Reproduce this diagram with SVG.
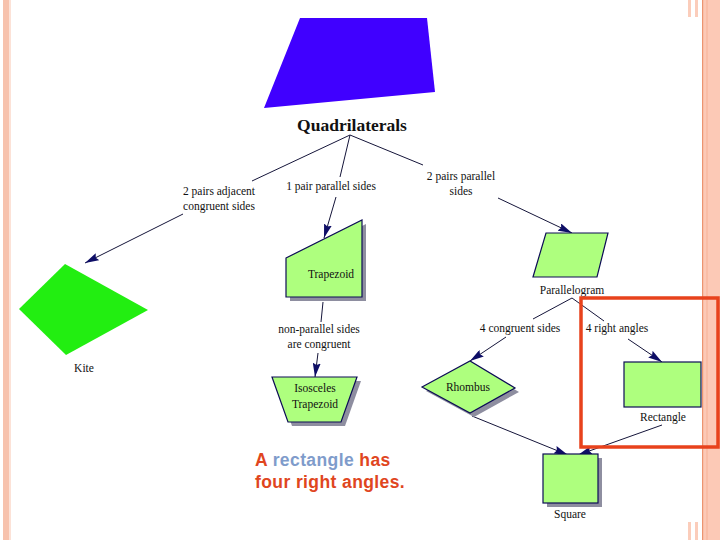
<svg xmlns="http://www.w3.org/2000/svg" width="720" height="540" viewBox="0 0 720 540">
<defs>
<style>
.lbl{font-family:"Liberation Serif","Times New Roman",serif;font-size:11.5px;fill:#111;text-anchor:middle}
.ttl{font-family:"Liberation Serif","Times New Roman",serif;font-size:17.5px;font-weight:bold;fill:#111;text-anchor:middle}
.node{fill:#AEFF7E;stroke:#0C0C55;stroke-width:1.2}
.shadow{fill:#8E8EA0}
.edge{fill:none;stroke:#15153A;stroke-width:1}
.arr{marker-end:url(#ah)}
.cap{font-family:"Liberation Sans",Arial,sans-serif;font-size:17.5px;font-weight:bold;letter-spacing:0.4px}
</style>
<marker id="ah" viewBox="0 0 14 8" refX="14" refY="4" markerWidth="14" markerHeight="8" orient="auto" markerUnits="userSpaceOnUse">
<path d="M0,0 L14,4 L0,8 L2,4 z" fill="#0E0E66"/>
</marker>
</defs>
<rect width="720" height="540" fill="#fff"/>
<g id="borders">
<rect x="3" y="0" width="6" height="540" fill="#F7C2AD"/>
<rect x="9" y="0" width="2" height="540" fill="#FCE2D7"/>
<rect x="702" y="0" width="18" height="540" fill="#FCC9B6"/>
<rect x="702" y="0" width="1.2" height="540" fill="#EC9470"/>
<rect x="706" y="0" width="2" height="540" fill="#F9BDA6"/>
<rect x="688" y="0" width="3" height="17" fill="#FBCDBB"/>
<rect x="695" y="0" width="3" height="17" fill="#FBCDBB"/>
<rect x="688" y="522" width="3" height="18" fill="#FBCDBB"/>
<rect x="695" y="522" width="3" height="18" fill="#FBCDBB"/>
</g>
<g id="blue-quad"><polygon points="300,18 427,18 435,92 264,108" fill="#4000FF"/></g>
<g id="connectors">
<line class="edge" x1="350" y1="135" x2="252" y2="181"/>
<line class="edge" x1="350" y1="135" x2="340" y2="177"/>
<line class="edge" x1="350" y1="135" x2="423" y2="165"/>
<line class="edge arr" x1="183" y1="214" x2="85" y2="263"/>
<line class="edge arr" x1="336" y1="197" x2="324" y2="238"/>
<line class="edge arr" x1="498" y1="198" x2="572" y2="233"/>
<line class="edge" x1="323" y1="302" x2="321" y2="322"/>
<line class="edge arr" x1="318" y1="353" x2="315" y2="377"/>
<line class="edge" x1="572" y1="298" x2="533" y2="319"/>
<line class="edge" x1="572" y1="298" x2="604" y2="321"/>
<line class="edge arr" x1="506" y1="337" x2="470" y2="361"/>
<line class="edge arr" x1="628" y1="339" x2="662" y2="362"/>
<line class="edge arr" x1="472" y1="416" x2="568" y2="455"/>
<line class="edge arr" x1="662" y1="425" x2="578" y2="455"/>
</g>
<g id="quadrilaterals"><text class="ttl" x="352" y="131">Quadrilaterals</text></g>
<g id="lbl-adjacent"><text class="lbl" x="219" y="195">2 pairs adjacent</text><text class="lbl" x="219" y="210">congruent sides</text></g>
<g id="lbl-1pair"><text class="lbl" x="331" y="190">1 pair parallel sides</text></g>
<g id="lbl-2pairs"><text class="lbl" x="461" y="180">2 pairs parallel</text><text class="lbl" x="461" y="195">sides</text></g>
<g id="kite">
<polygon points="65,264 148,310 66,355 19,309" fill="#22EE11"/>
<text class="lbl" x="84" y="372">Kite</text>
</g>
<g id="trapezoid">
<polygon class="shadow" points="290,262 366,224 366,301 290,301"/>
<polygon class="node" points="286,258 362,220 362,297 286,297"/>
<text class="lbl" x="331" y="278">Trapezoid</text>
</g>
<g id="lbl-nonparallel"><text class="lbl" x="319" y="333">non-parallel sides</text><text class="lbl" x="319" y="348">are congruent</text></g>
<g id="isosceles">
<polygon class="shadow" points="276,381 361,381 345,426 292,426"/>
<polygon class="node" points="272,377 357,377 341,422 288,422"/>
<text class="lbl" x="315" y="392">Isosceles</text>
<text class="lbl" x="315" y="408">Trapezoid</text>
</g>
<g id="parallelogram">
<polygon class="node" points="546,233 608,233 597,277 533,277"/>
<text class="lbl" x="572" y="294">Parallelogram</text>
</g>
<g id="lbl-4cong"><text class="lbl" x="520" y="332">4 congruent sides</text></g>
<g id="lbl-4right"><text class="lbl" x="617" y="332">4 right angles</text></g>
<g id="rhombus">
<polygon class="shadow" points="426,391 474,365 519,392 474,417"/>
<polygon class="node" points="422,387 470,361 515,388 470,413"/>
<text class="lbl" x="468" y="391">Rhombus</text>
</g>
<g id="rectangle">
<rect class="node" x="624" y="362" width="77" height="45"/>
<text class="lbl" x="663" y="421">Rectangle</text>
</g>
<g id="square">
<rect class="shadow" x="547" y="458" width="55" height="49"/>
<rect class="node" x="543" y="454" width="55" height="49"/>
<text class="lbl" x="570" y="518">Square</text>
</g>
<g id="highlight"><rect x="581" y="298" width="137" height="149" fill="none" stroke="#E8421C" stroke-width="3.5"/></g>
<g id="caption">
<text class="cap" x="255" y="466"><tspan fill="#E0461E">A </tspan><tspan fill="#7F9CCB">rectangle</tspan><tspan fill="#E0461E"> has</tspan></text>
<text class="cap" x="255" y="488" fill="#E0461E">four right angles.</text>
</g>
</svg>
